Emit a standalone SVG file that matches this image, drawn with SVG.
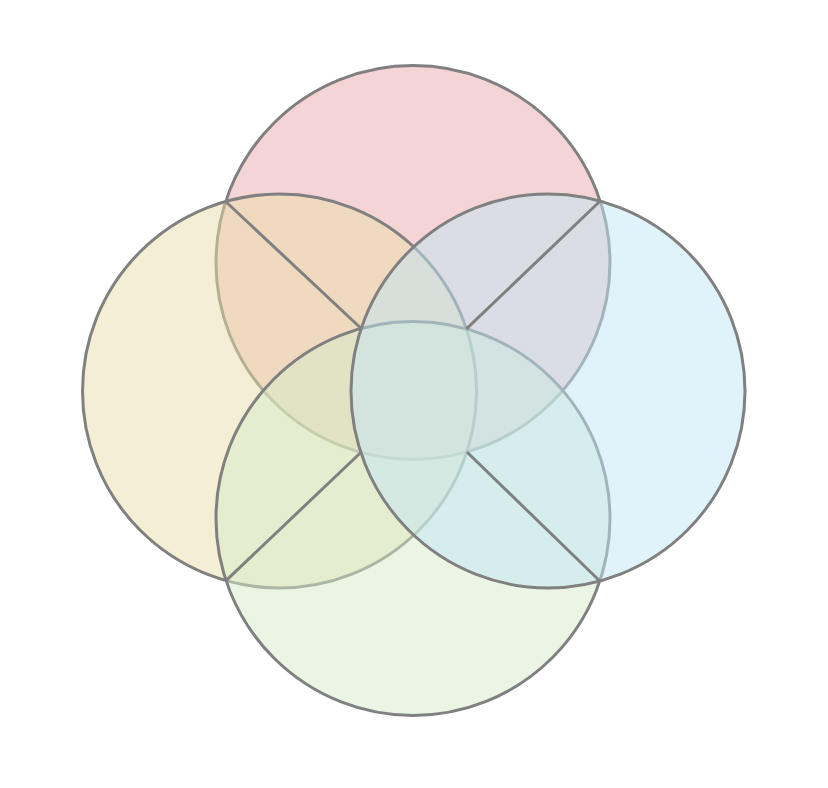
<svg xmlns="http://www.w3.org/2000/svg" width="828" height="788" viewBox="0 0 828 788">
<style>
.c{stroke:#808080;stroke-width:3;fill-opacity:0.5}
.ln{stroke:#808080;stroke-width:3;fill:none;stroke-linecap:butt}
</style>
<rect width="828" height="788" fill="#ffffff"/>
<g id="node-top"><circle class="c" cx="413" cy="262.5" r="197" fill="#e9a9a9"/></g>
<g id="node-left"><circle class="c" cx="279.5" cy="391" r="197" fill="#e9ddaa"/></g>
<g id="node-bottom"><circle class="c" cx="413" cy="518.5" r="197" fill="#d5ebc9"/></g>
<g id="node-right"><circle class="c" cx="548" cy="391" r="197" fill="#c1e5f5"/></g>
<g id="connectors">
<line class="ln" x1="225.6" y1="201.5" x2="361.2" y2="328.5"/>
<line class="ln" x1="600.2" y1="201" x2="466.4" y2="328.9"/>
<line class="ln" x1="226" y1="580.6" x2="360.8" y2="452.5"/>
<line class="ln" x1="599.8" y1="581" x2="466.9" y2="452"/>
</g>
</svg>
